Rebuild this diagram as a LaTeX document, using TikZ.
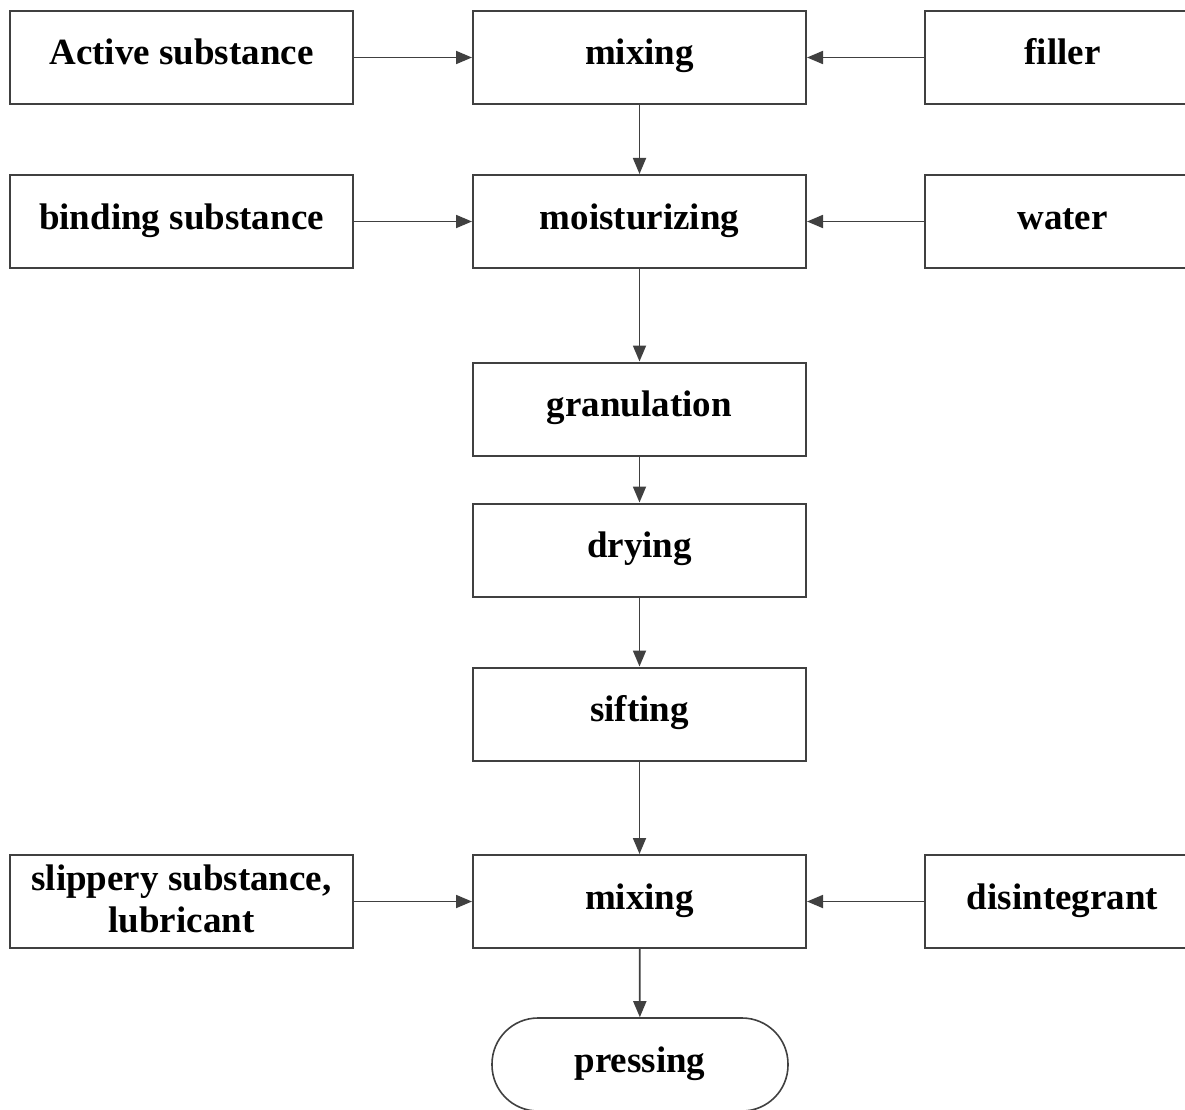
\documentclass[tikz,border=0pt]{standalone}
\usepackage{fontspec}
\setmainfont{Liberation Serif}
\usepackage{xcolor}
\usepackage{tikz}
\usetikzlibrary{arrows.meta}
\definecolor{edgegray}{HTML}{404040}

\begin{document}
\begin{tikzpicture}[
  x=1pt,y=-1pt,
  font=\fontsize{37}{42}\selectfont\bfseries,
  every node/.style={text height=28pt,text depth=13pt,inner sep=0pt},
  src/.style={draw=edgegray,line width=2pt,minimum width=343pt,minimum height=93pt,align=center},
  stage/.style={draw=edgegray,line width=2pt,minimum width=333pt,minimum height=93pt,align=center},
  extra/.style={draw=edgegray,line width=2pt,minimum width=275pt,minimum height=93pt,align=center},
  term/.style={draw=edgegray,line width=1.6pt,rounded corners=46pt,minimum width=296pt,minimum height=93pt},
  arr/.style={-{Triangle[length=16pt,width=13pt]},line width=1.8pt,draw=edgegray}
]
\clip (0,0) rectangle (1185,1110);
% main column
\node[stage] (mix1) at (639.5,57.5) {mixing};
\node[stage] (moist) at (639.5,221.5) {moisturizing};
\node[stage] (gran) at (639.5,409) {granulation};
\node[stage] (dry) at (639.5,550) {drying};
\node[stage] (sift) at (639.5,714) {sifting};
\node[stage] (mix2) at (639.5,901.5) {mixing};
\node[term] (press) at (640,1064.5) {pressing};
\draw[arr] (mix1)--(moist); \draw[arr] (moist)--(gran); \draw[arr] (gran)--(dry);
\draw[arr] (dry)--(sift); \draw[arr] (sift)--(mix2); \draw[arr] (mix2)--(press);
% inputs from the left
\node[src] (active) at (181.5,57.5) {Active substance};
\node[src] (bind) at (181.5,221.5) {binding substance};
\node[src,text height=70pt,text depth=9pt] (slip) at (181.5,901.5) {slippery substance,\\lubricant};
\draw[arr] (active)--(mix1); \draw[arr] (bind)--(moist); \draw[arr] (slip)--(mix2);
% inputs from the right
\node[extra] (fill) at (1062.5,57.5) {filler};
\node[extra] (water) at (1062.5,221.5) {water};
\node[extra] (disint) at (1062.5,901.5) {disintegrant};
\draw[arr] (fill)--(mix1); \draw[arr] (water)--(moist); \draw[arr] (disint)--(mix2);
\end{tikzpicture}
\end{document}
